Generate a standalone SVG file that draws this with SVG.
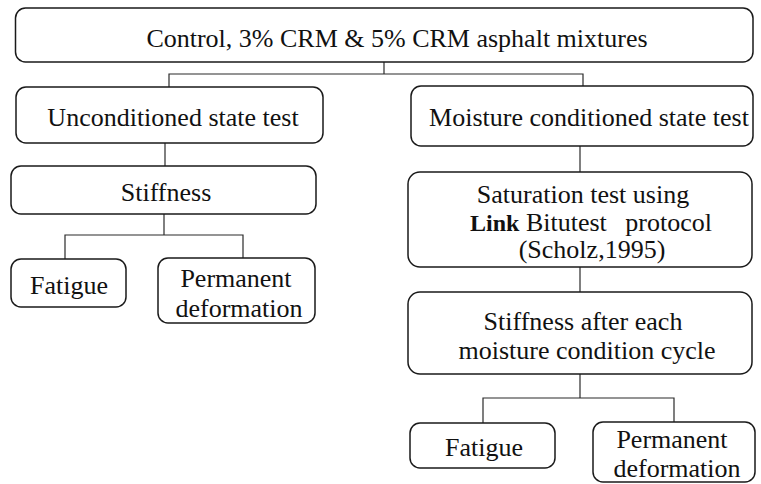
<svg xmlns="http://www.w3.org/2000/svg" width="761" height="484" viewBox="0 0 761 484">
<style>
.box{fill:#fff;stroke:#1a1a1a;stroke-width:1.5}
svg text.t, text.t, .t{font-family:"Liberation Serif",serif !important;font-size:26px;fill:#111;text-anchor:middle}
.c{fill:none;stroke:#2a2a2a;stroke-width:1.2}
</style>
<rect width="761" height="484" fill="#fff"/>
<g id="connectors">
<polyline class="c" points="384,62 384,74"/>
<polyline class="c" points="169,87 169,74 583,74 583,86"/>
<polyline class="c" points="165,143 165,166"/>
<polyline class="c" points="164,214 164,235"/>
<polyline class="c" points="65,259 65,235 243,235 243,258"/>
<polyline class="c" points="580,146 580,172"/>
<polyline class="c" points="580,267 580,292"/>
<polyline class="c" points="580,374 580,398"/>
<polyline class="c" points="483,423 483,398 674,398 674,422"/>
</g>
<g id="top">
<rect class="box" x="15.5" y="8" width="737.5" height="54" rx="10"/>
<text class="t" x="397" y="47" style="font-family:'Liberation Serif',serif !important">Control, 3% CRM &amp; 5% CRM asphalt mixtures</text>
</g>
<g id="unconditioned">
<rect class="box" x="16" y="87" width="307" height="56" rx="10"/>
<text class="t" x="173" y="126" style="font-family:'Liberation Serif',serif !important">Unconditioned state test</text>
</g>
<g id="moisture">
<rect class="box" x="411" y="86" width="342" height="60" rx="10"/>
<text class="t" x="589" y="126" style="font-family:'Liberation Serif',serif !important">Moisture conditioned state test</text>
</g>
<g id="stiffness">
<rect class="box" x="11" y="166" width="305" height="48" rx="10"/>
<text class="t" x="166" y="201" style="font-family:'Liberation Serif',serif !important">Stiffness</text>
</g>
<g id="fatigue-left">
<rect class="box" x="11" y="259" width="115" height="48" rx="10"/>
<text class="t" x="69" y="294" style="font-family:'Liberation Serif',serif !important">Fatigue</text>
</g>
<g id="permanent-left">
<rect class="box" x="158" y="258" width="157" height="65" rx="10"/>
<text class="t" x="236" y="287" style="font-family:'Liberation Serif',serif !important">Permanent</text>
<text class="t" x="239" y="317" style="font-family:'Liberation Serif',serif !important">deformation</text>
</g>
<g id="saturation">
<rect class="box" x="408" y="172" width="344" height="95" rx="12"/>
<text class="t" x="583" y="203" style="font-family:'Liberation Serif',serif !important">Saturation test using</text>
<text class="t" x="591" y="231" style="font-family:'Liberation Serif',serif !important"><tspan font-weight="bold" font-size="24">Link</tspan> Bitutest <tspan dx="12">protocol</tspan></text>
<text class="t" x="592" y="258" style="font-family:'Liberation Serif',serif !important">(Scholz,1995)</text>
</g>
<g id="stiffness-after">
<rect class="box" x="408" y="292" width="344" height="82" rx="12"/>
<text class="t" x="583" y="330" style="font-family:'Liberation Serif',serif !important">Stiffness after each</text>
<text class="t" x="587" y="359" style="font-family:'Liberation Serif',serif !important">moisture condition cycle</text>
</g>
<g id="fatigue-right">
<rect class="box" x="410" y="423" width="145" height="45" rx="10"/>
<text class="t" x="484" y="456" style="font-family:'Liberation Serif',serif !important">Fatigue</text>
</g>
<g id="permanent-right">
<rect class="box" x="593" y="422" width="162" height="60" rx="10"/>
<text class="t" x="672" y="448" style="font-family:'Liberation Serif',serif !important">Permanent</text>
<text class="t" x="677" y="477" style="font-family:'Liberation Serif',serif !important">deformation</text>
</g>
</svg>
